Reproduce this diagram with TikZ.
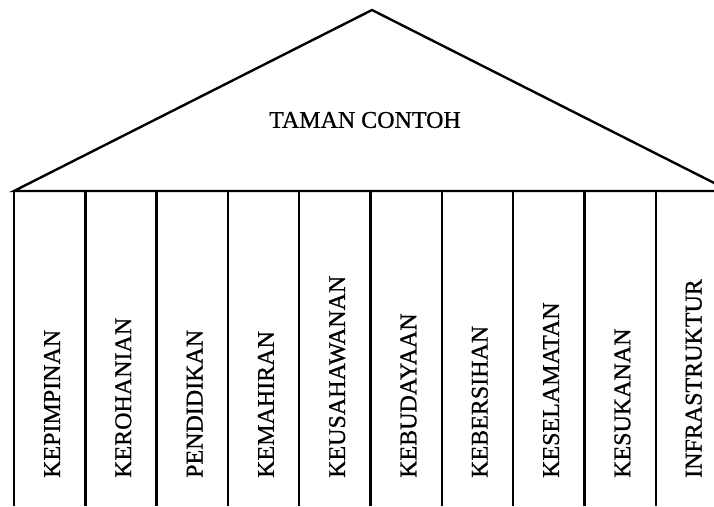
\documentclass[tikz,border=0pt]{standalone}
\usepackage{fontspec}
\setmainfont{Liberation Serif}[FakeBold=0.8]
\tikzset{roof/.style={line width=2.4pt, line join=miter},
pillar/.style={rotate=90, anchor=west, inner sep=0pt, font=\fontsize{24}{28}\selectfont},
%text in the roof
title/.style={inner sep=0pt, font=\fontsize{24}{28}\selectfont}}

\begin{document}
\begin{tikzpicture}[x=1pt,y=-1pt]
\useasboundingbox (0,0) rectangle (714,506);
\clip (0,0) rectangle (714,506);
% roof
\coordinate (apex) at (372,10);
\coordinate (eaveL) at (14,191);
\coordinate (eaveR) at (730,191);
\draw[roof] (eaveL) -- (apex) -- (eaveR) -- cycle;
\node[title] (taman) at (365,120) {TAMAN CONTOH};

% pillars
\foreach \name [count=\i from 0] in {KEPIMPINAN,KEROHANIAN,PENDIDIKAN,KEMAHIRAN,KEUSAHAWANAN,KEBUDAYAAN,KEBERSIHAN,KESELAMATAN,KESUKANAN,INFRASTRUKTUR}
{
  \coordinate (top\i) at (14+71.3*\i,191);
  \coordinate (bot\i) at (14+71.3*\i,506);
  \draw[roof] (top\i) -- (bot\i);
  \node[pillar] (p\i) at (52+71.3*\i,478) {\name};
}
\end{tikzpicture}
\end{document}
